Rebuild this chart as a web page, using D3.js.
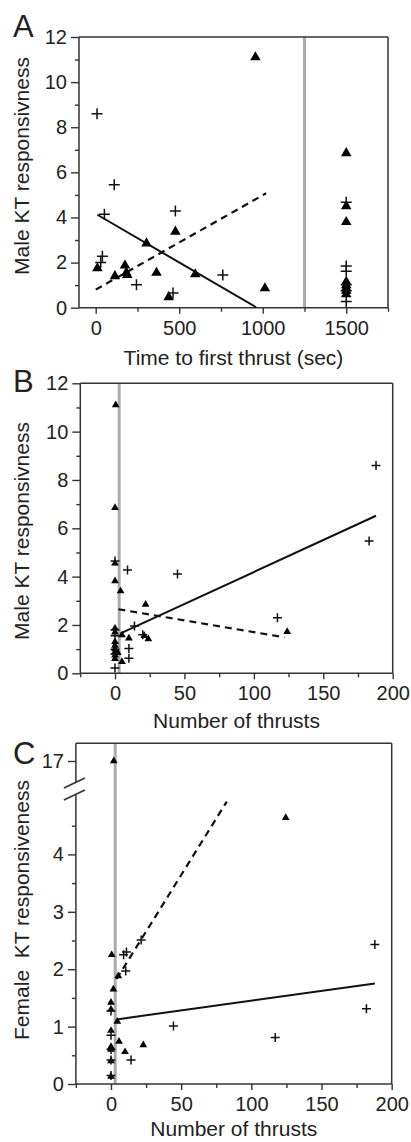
<!DOCTYPE html>
<html><head><meta charset="utf-8">
<script src="https://cdn.jsdelivr.net/npm/d3@7/dist/d3.min.js"></script>
<style>
html,body{margin:0;padding:0;background:#fff;}
svg{display:block;}
text{font-family:"Liberation Sans",Arial,Helvetica,sans-serif;fill:#222;}
</style></head>
<body>
<svg id="chart" width="411" height="1142"></svg>
<script>
// ---------- Panel A data (time to first thrust vs male KT responsiveness) ----------
const aPlusX = [8, 111, 52, 477, 40, 30, 244, 761, 463, 1500, 1500, 1500, 1500, 1500, 1500];
const aPlusY = [8.6, 5.45, 4.14, 4.29, 2.28, 2.0, 1.02, 1.45, 0.65, 4.67, 1.85, 1.62, 1.02, 0.75, 0.27];
const aTriX = [956, 10, 115, 175, 183, 189, 304, 477, 364, 596, 437, 1013, 1500, 1500, 1500, 1500, 1500, 1500, 1500, 1500];
const aTriY = [11.1, 1.75, 1.4, 1.87, 1.55, 1.45, 2.85, 3.37, 1.55, 1.48, 0.47, 0.86, 6.85, 4.5, 3.8, 1.15, 1.0, 0.88, 0.75, 0.6];
const aSolidX = [10, 960];
const aSolidY = [4.12, 0.02];
const aDashX = [0, 1020];
const aDashY = [0.8, 5.07];
const aXTicks = [0, 500, 1000, 1500];
const aXMinor = [250, 750, 1250, 1750];
const aYTicks = [0, 2, 4, 6, 8, 10, 12];
const aYMinor = [1, 3, 5, 7, 9, 11];
const aRef = 1250;

// ---------- Panel B data (number of thrusts vs male KT responsiveness) ----------
const bPlusX = [188, 183, 9, 45, 117, 14, 10, 10, 20, 0, 0, 0, 0, 0, 0];
const bPlusY = [8.6, 5.47, 4.27, 4.11, 2.3, 1.96, 1.03, 0.62, 1.6, 4.65, 1.8, 1.55, 1.0, 0.8, 0.22];
const bTriX = [0.5, 0, 0, 0, 4, 22, 124, 10, 24, 21, 5, 5, 0, 0, 0, 0, 0, 0, 0, 0, 2];
const bTriY = [11.1, 6.85, 4.55, 3.82, 3.4, 2.85, 1.72, 1.45, 1.42, 1.55, 1.58, 0.48, 1.86, 1.7, 1.3, 1.15, 1.0, 0.88, 0.75, 0.6, 0.85];
const bSolidX = [4, 188];
const bSolidY = [1.65, 6.52];
const bDashX = [2.4, 122];
const bDashY = [2.65, 1.49];
const bXTicks = [0, 50, 100, 150, 200];
const bXMinor = [-25, 25, 75, 125, 175];
const bYTicks = [0, 2, 4, 6, 8, 10, 12];
const bYMinor = [1, 3, 5, 7, 9, 11];
const bRef = 3;

// ---------- Panel C data (number of thrusts vs female KT responsiveness) ----------
const cPlusX = [188, 182, 44.5, 117, 14.3, 21.5, 9, 11, 10.5, 0, 0, 0, 0, 0];
const cPlusY = [2.43, 1.31, 1.01, 0.81, 0.42, 2.51, 2.25, 2.3, 1.97, 1.27, 0.85, 0.6, 0.42, 0.15];
const cTriX = [2, 124.5, 0.5, 1.7, 0, 0, 0, 0, 0, 5.2, 4.5, 5.7, 10, 23, 0, 0];
const cTriY = [17, 4.64, 2.25, 1.65, 1.42, 0.93, 0.65, 0.4, 0.13, 1.88, 1.09, 0.74, 0.56, 0.68, 1.3, 0.6];
const cSolidX = [5.2, 188];
const cSolidY = [1.13, 1.75];
const cDashX = [4, 82.5];
const cDashY = [1.83, 4.92];
const cXTicks = [0, 50, 100, 150, 200];
const cXMinor = [-25, 25, 75, 125, 175];
const cYTicks = [0, 1, 2, 3, 4];
const cYMinor = [0.5, 1.5, 2.5, 3.5, 4.5];
const cYTopTicks = [17];
const cRef = 3;

const svg = d3.select("#chart");
svg.append("rect").attr("width", 411).attr("height", 1142).attr("fill", "#fff");

const INK = "#222";

function plusPath(s) { return `M${-s},0H${s}M0,${-s}V${s}`; }

function styleAxis(g) {
  g.select(".domain").remove();
  g.selectAll(".tick line").attr("stroke", "#333").attr("stroke-width", 1.4);
  g.selectAll(".tick text").style("font-size", "20px").attr("fill", INK);
}

function panel(o) {
  const g = svg.append("g");
  const x = d3.scaleLinear().domain(o.xDomain).range([o.left, o.right]);
  const y = d3.scaleLinear().domain(o.yDomain).range([o.bottom, o.yTopRange]);
  // grey reference line
  g.append("line").attr("x1", x(o.ref)).attr("x2", x(o.ref))
    .attr("y1", o.top).attr("y2", o.bottom)
    .attr("stroke", "#ababab").attr("stroke-width", 3);
  // axes
  const xa = g.append("g").attr("transform", `translate(0,${o.bottom})`)
    .call(d3.axisBottom(x).tickValues(o.xTicks).tickFormat(d3.format("d")).tickSize(6).tickPadding(7).tickSizeOuter(0));
  styleAxis(xa);
  const xm = g.append("g").attr("transform", `translate(0,${o.bottom})`)
    .call(d3.axisBottom(x).tickValues(o.xMinor).tickFormat("").tickSize(4).tickSizeOuter(0));
  styleAxis(xm);
  const ya = g.append("g").attr("transform", `translate(${o.left},0)`)
    .call(d3.axisLeft(y).tickValues(o.yTicks).tickFormat(d3.format("d")).tickSize(8).tickPadding(4).tickSizeOuter(0));
  styleAxis(ya);
  const ym = g.append("g").attr("transform", `translate(${o.left},0)`)
    .call(d3.axisLeft(y).tickValues(o.yMinor).tickFormat("").tickSize(4).tickSizeOuter(0));
  styleAxis(ym);
  let yTop = null;
  if (o.break) {
    yTop = d3.scaleLinear().domain([16.5, 17.5]).range([779, 743]);
    const yt = g.append("g").attr("transform", `translate(${o.left},0)`)
      .call(d3.axisLeft(yTop).tickValues(o.yTopTicks).tickFormat(d3.format("d")).tickSize(8).tickPadding(4).tickSizeOuter(0));
    styleAxis(yt);
  }
  // frame
  const fr = g.append("g").attr("stroke", "#333").attr("stroke-width", 1.5).attr("fill", "none");
  fr.append("line").attr("x1", o.left).attr("x2", o.right).attr("y1", o.top).attr("y2", o.top);
  fr.append("line").attr("x1", o.left).attr("x2", o.right).attr("y1", o.bottom).attr("y2", o.bottom);
  fr.append("line").attr("x1", o.right).attr("x2", o.right).attr("y1", o.top).attr("y2", o.bottom);
  if (o.break) {
    fr.append("line").attr("x1", o.left).attr("x2", o.left).attr("y1", o.top).attr("y2", 783);
    fr.append("line").attr("x1", o.left).attr("x2", o.left).attr("y1", 795).attr("y2", o.bottom);
    fr.append("line").attr("x1", o.left - 12).attr("x2", o.left + 9).attr("y1", 788).attr("y2", 778);
    fr.append("line").attr("x1", o.left - 12).attr("x2", o.left + 9).attr("y1", 800).attr("y2", 790);
  } else {
    fr.append("line").attr("x1", o.left).attr("x2", o.left).attr("y1", o.top).attr("y2", o.bottom);
  }
  const yv = v => (o.break && v > 10) ? yTop(v) : y(v);
  // regression lines
  const line = d3.line().x(d => x(d[0])).y(d => yv(d[1]));
  g.append("path").datum(d3.zip(o.solidX, o.solidY)).attr("d", line)
    .attr("fill", "none").attr("stroke", "#111").attr("stroke-width", 2);
  g.append("path").datum(d3.zip(o.dashX, o.dashY)).attr("d", line)
    .attr("fill", "none").attr("stroke", "#111").attr("stroke-width", 2.2).attr("stroke-dasharray", "7,5");
  // triangles
  const tri = d3.symbol(d3.symbolTriangle, o.triSize);
  g.append("g").selectAll("path").data(d3.zip(o.triX, o.triY)).join("path")
    .attr("d", tri).attr("fill", "#000")
    .attr("transform", d => `translate(${x(d[0])},${yv(d[1])})`);
  // plus markers
  g.append("g").selectAll("path").data(d3.zip(o.plusX, o.plusY)).join("path")
    .attr("d", plusPath(o.plusR)).attr("fill", "none").attr("stroke", "#111").attr("stroke-width", 1.5)
    .attr("transform", d => `translate(${x(d[0])},${yv(d[1])})`);
  // titles
  g.append("text").attr("x", (o.left + o.right) / 2).attr("y", o.bottom + o.xTitleOff)
    .attr("text-anchor", "middle").style("font-size", "21px").text(o.xTitle);
  g.append("text").attr("transform", `translate(29,${o.yTitleMid}) rotate(-90)`)
    .attr("text-anchor", "middle").style("font-size", "21px").style("white-space", "pre").text(o.yTitle);
  g.append("text").attr("x", 13).attr("y", o.letterY).style("font-size", "31px").text(o.letter);
}

panel({
  letter: "A", letterY: 37,
  left: 79, right: 388, top: 37, bottom: 307.7, yTopRange: 37,
  xDomain: [-100, 1750], yDomain: [0, 12],
  xTicks: aXTicks, xMinor: aXMinor, yTicks: aYTicks, yMinor: aYMinor,
  ref: aRef, plusX: aPlusX, plusY: aPlusY, triX: aTriX, triY: aTriY,
  solidX: aSolidX, solidY: aSolidY, dashX: aDashX, dashY: aDashY,
  triSize: 48, plusR: 5.5, xTitleOff: 57,
  xTitle: "Time to first thrust (sec)", yTitle: "Male KT responsivness", yTitleMid: 166
});
panel({
  letter: "B", letterY: 392,
  left: 80.3, right: 392.7, top: 383.3, bottom: 673.3, yTopRange: 383.3,
  xDomain: [-25, 200], yDomain: [0, 12],
  xTicks: bXTicks, xMinor: bXMinor, yTicks: bYTicks, yMinor: bYMinor,
  ref: bRef, plusX: bPlusX, plusY: bPlusY, triX: bTriX, triY: bTriY,
  solidX: bSolidX, solidY: bSolidY, dashX: bDashX, dashY: bDashY,
  triSize: 26, plusR: 4.5, xTitleOff: 55,
  xTitle: "Number of thrusts", yTitle: "Male KT responsivness", yTitleMid: 531
});
panel({
  letter: "C", letterY: 764, break: true,
  left: 75.9, right: 391.7, top: 743.3, bottom: 1084, yTopRange: 797,
  xDomain: [-25, 200], yDomain: [0, 5],
  xTicks: cXTicks, xMinor: cXMinor, yTicks: cYTicks, yMinor: cYMinor, yTopTicks: cYTopTicks,
  ref: cRef, plusX: cPlusX, plusY: cPlusY, triX: cTriX, triY: cTriY,
  solidX: cSolidX, solidY: cSolidY, dashX: cDashX, dashY: cDashY,
  triSize: 26, plusR: 4.5, xTitleOff: 52,
  xTitle: "Number of thrusts", yTitle: "Female  KT responsiveness", yTitleMid: 910
});
</script>
</body></html>
